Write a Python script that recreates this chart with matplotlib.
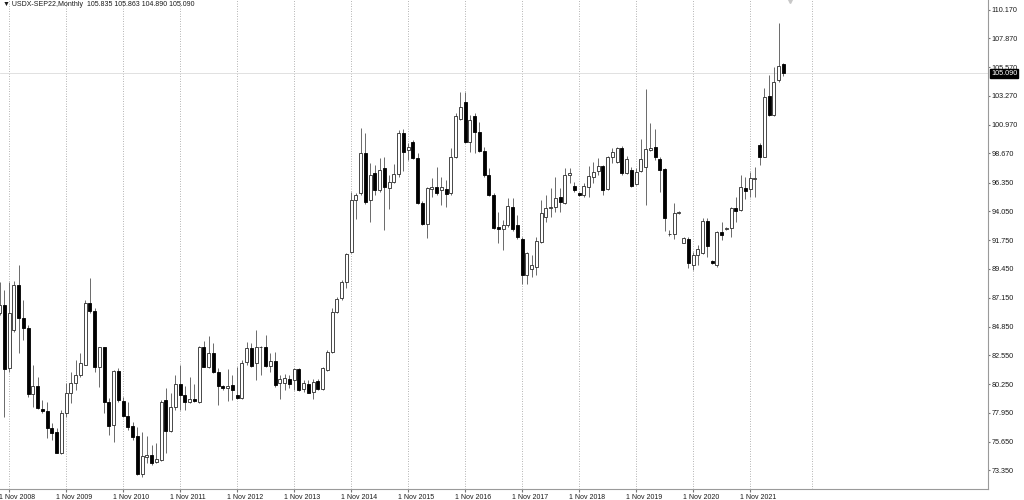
import numpy as np
import pandas as pd
import matplotlib
matplotlib.use('Agg')
import matplotlib.pyplot as plt
import matplotlib.transforms as mtransforms

plt.rcParams['font.family'] = ['Liberation Sans', 'DejaVu Sans']

# monthly bars, Sep 2008 .. Jun 2022
fechas = pd.date_range('2008-09-01', '2022-06-01', freq='MS')

opens = [
    85.90, 86.57, 81.51, 84.57,
    88.17, 85.50, 84.70, 79.46, 80.10, 78.24, 78.13, 76.72, 76.45, 74.72, 77.92, 79.51,
    80.31, 80.98, 81.78, 86.70, 86.12, 81.64, 83.19, 78.79, 76.98, 81.32, 78.90, 77.73,
    76.91, 76.11, 73.07, 74.46, 74.56, 74.06, 74.19, 78.98, 76.53, 78.40, 80.26, 79.38,
    78.85, 79.04, 78.85, 83.19, 81.64, 82.76, 81.24, 80.10, 79.91, 80.18, 79.38, 79.12,
    81.99, 83.11, 81.91, 83.22, 83.24, 81.73, 82.10, 80.32, 80.32, 80.66, 80.58, 81.43,
    79.84, 80.26, 79.65, 80.53, 79.84, 81.38, 82.84, 86.04, 87.10, 88.43, 90.83, 94.96,
    95.49, 98.74, 94.96, 97.09, 95.76, 97.49, 95.89, 96.42, 97.01, 100.33, 98.95, 99.62,
    98.28, 94.69, 93.04, 95.81, 95.97, 95.76, 95.81, 95.49, 98.36, 101.40, 102.81, 99.62,
    101.67, 100.41, 98.90, 96.95, 95.36, 92.83, 92.67, 92.96, 94.42, 92.96, 91.82, 88.97,
    89.42, 89.63, 91.63, 93.57, 94.29, 94.37, 95.17, 94.74, 96.95, 96.07, 95.49, 95.36,
    96.02, 96.82, 97.30, 97.67, 95.81, 98.42, 98.02, 99.08, 97.09, 97.35, 96.23, 97.30,
    97.57, 98.95, 99.16, 98.20, 97.41, 92.24, 92.24, 93.89, 91.55, 91.82, 89.77, 90.57,
    90.75, 93.31, 90.09, 89.77, 92.38, 92.64, 92.70, 94.35, 94.16, 95.94, 95.81, 96.63,
    99.35, 98.42, 103.29, 101.75, 104.54, 105.835,
]
highs = [
    88.43, 87.77, 88.43, 88.51,
    89.76, 86.97, 84.97, 81.78, 80.84, 78.98, 78.85, 77.12, 76.72, 78.18, 80.31, 81.24,
    82.18, 82.71, 86.97, 88.70, 86.30, 83.24, 83.24, 79.11, 81.38, 81.51, 79.25, 78.85,
    77.25, 76.85, 76.45, 76.11, 75.39, 75.52, 78.98, 79.91, 79.52, 80.98, 81.78, 80.10,
    80.84, 80.26, 83.30, 83.72, 84.09, 83.51, 81.51, 80.18, 81.43, 80.98, 81.64, 82.18,
    83.64, 83.51, 84.57, 83.30, 84.18, 82.71, 82.84, 80.98, 81.06, 80.98, 81.51, 81.51,
    80.58, 80.58, 80.63, 80.63, 81.65, 82.98, 86.30, 87.24, 88.57, 90.75, 95.62, 95.49,
    100.68, 100.28, 97.89, 97.75, 98.28, 98.42, 96.95, 97.83, 100.55, 100.60, 99.48, 99.75,
    98.68, 94.90, 96.02, 96.69, 97.62, 96.82, 96.55, 99.08, 101.88, 103.61, 103.61, 101.75,
    101.88, 101.21, 99.22, 97.49, 95.49, 94.03, 93.36, 95.09, 95.09, 93.76, 92.03, 90.83,
    90.57, 92.03, 94.96, 95.36, 95.89, 96.82, 95.89, 97.49, 97.49, 96.42, 95.62, 96.29,
    97.67, 98.02, 98.28, 97.75, 98.47, 99.08, 99.22, 99.27, 98.47, 97.57, 97.49, 99.80,
    103.79, 101.08, 100.60, 98.42, 97.49, 92.56, 94.74, 94.11, 91.97, 92.03, 90.83, 91.36,
    93.49, 93.49, 90.17, 92.51, 93.23, 92.83, 94.43, 95.22, 96.95, 96.82, 97.22, 97.62,
    99.48, 103.88, 104.94, 105.61, 109.12, 105.863,
]
lows = [
    85.77, 77.65, 81.24, 84.44,
    82.71, 83.77, 79.25, 78.45, 78.24, 77.92, 75.92, 75.79, 74.72, 74.67, 77.65, 78.71,
    79.78, 80.84, 81.78, 85.90, 81.24, 80.05, 77.92, 76.19, 75.65, 78.85, 77.65, 76.58,
    75.79, 72.99, 72.86, 73.92, 73.79, 73.98, 74.14, 74.72, 76.45, 78.18, 78.18, 78.18,
    78.77, 78.85, 78.72, 81.59, 81.51, 81.11, 78.58, 79.78, 78.93, 78.98, 79.04, 79.04,
    81.78, 81.65, 80.58, 80.98, 81.65, 81.25, 80.00, 79.04, 79.78, 79.92, 79.78, 79.73,
    79.65, 79.52, 79.04, 79.78, 79.78, 81.33, 82.71, 85.91, 86.97, 87.90, 90.70, 93.41,
    95.36, 94.64, 93.23, 95.36, 95.62, 92.56, 94.21, 96.29, 96.82, 97.30, 98.15, 98.20,
    94.64, 92.96, 91.90, 95.22, 95.36, 94.56, 94.42, 95.36, 98.28, 101.35, 99.54, 98.82,
    98.74, 98.82, 96.82, 95.28, 92.61, 91.55, 90.96, 92.83, 92.51, 91.82, 88.25, 88.25,
    88.83, 88.97, 91.50, 93.23, 93.63, 94.03, 94.03, 94.64, 96.29, 95.62, 95.28, 95.22,
    95.22, 96.29, 96.95, 95.36, 95.76, 97.94, 97.94, 96.95, 97.03, 96.02, 96.15, 97.22,
    94.56, 98.90, 98.15, 95.62, 92.51, 92.08, 91.82, 93.84, 91.50, 89.50, 89.37, 89.77,
    90.65, 90.43, 89.85, 89.63, 91.76, 92.56, 91.98, 93.23, 94.11, 95.01, 95.22, 95.22,
    97.75, 98.36, 101.67, 101.67, 104.41, 104.890,
]
closes = [
    86.57, 81.43, 85.96, 88.17,
    85.50, 84.70, 79.46, 80.10, 78.32, 78.13, 76.72, 76.37, 74.77, 77.92, 79.51, 80.31,
    80.98, 81.91, 86.70, 86.12, 81.64, 83.19, 78.79, 76.93, 81.32, 78.98, 77.73, 76.85,
    76.05, 73.07, 74.51, 74.56, 73.98, 74.25, 78.85, 76.53, 78.40, 80.26, 79.38, 78.85,
    79.04, 78.90, 83.19, 81.64, 82.76, 81.24, 80.10, 79.91, 80.10, 79.78, 79.12, 81.96,
    83.11, 81.73, 83.24, 83.24, 81.73, 82.10, 80.18, 80.66, 80.71, 80.26, 81.43, 79.78,
    80.32, 79.57, 80.45, 79.84, 81.51, 82.84, 86.04, 87.02, 88.43, 90.64, 94.96, 95.36,
    98.74, 94.82, 96.95, 95.76, 97.35, 96.02, 96.42, 97.01, 100.33, 98.82, 99.22, 98.28,
    94.69, 93.04, 95.89, 95.97, 95.54, 95.97, 95.44, 98.36, 101.67, 102.41, 99.62, 101.35,
    100.41, 98.90, 96.95, 95.36, 92.69, 92.61, 92.93, 94.48, 92.61, 91.97, 88.97, 90.70,
    89.77, 91.71, 93.95, 94.29, 94.42, 95.09, 94.82, 96.95, 97.14, 95.76, 95.36, 96.07,
    96.87, 97.22, 97.67, 95.76, 98.36, 98.82, 99.08, 97.14, 98.20, 96.07, 97.22, 98.20,
    99.00, 99.08, 98.36, 97.35, 93.49, 92.27, 93.89, 94.03, 91.90, 89.95, 90.57, 91.02,
    93.31, 91.28, 89.90, 92.38, 92.16, 92.70, 94.29, 94.11, 95.97, 95.68, 96.69, 96.69,
    98.42, 103.21, 101.75, 104.41, 105.66, 105.090,
]

precios_eje = [110.170, 107.870, 105.570, 103.270, 100.970, 98.670, 96.350, 94.050,
               91.750, 89.450, 87.150, 84.850, 82.550, 80.250, 77.950, 75.650, 73.350]
etiquetas_x = ['1 Nov 2008', '1 Nov 2009', '1 Nov 2010', '1 Nov 2011', '1 Nov 2012',
               '1 Nov 2013', '1 Nov 2014', '1 Nov 2015', '1 Nov 2016', '1 Nov 2017',
               '1 Nov 2018', '1 Nov 2019', '1 Nov 2020', '1 Nov 2021']

o = np.array(opens); h = np.array(highs); l = np.array(lows); c = np.array(closes)
# bar index, 0 = Nov 2008
x = np.arange(len(fechas)) - 2
pos_etiquetas = [list(fechas).index(pd.Timestamp('%d-11-01' % (2008 + k))) - 2 for k in range(len(etiquetas_x))]

fig = plt.figure(figsize=(10.24, 5.0), dpi=100)
ax = fig.add_axes([0, 11 / 500, 988 / 1024, 489 / 500])

ax.set_xlim(-1.9, 206.1)
ax.set_ylim(71.87, 110.93)

# grid vertical punteada
for p in pos_etiquetas + [169]:
    ax.axvline(p, color='#9a9a9a', lw=0.6, ls=(0, (1, 2)), zorder=0)

# linea del precio actual
ax.axhline(c[-1], color='#dcdcdc', lw=0.6, zorder=0)

# velas
sube = c >= o
ax.vlines(x, l, h, color='#6a6a6a', lw=0.7, zorder=1)
alto = np.maximum(np.abs(c - o), 0.03)
ax.bar(x[sube], alto[sube], bottom=np.minimum(o, c)[sube], width=0.64,
       color='white', edgecolor='#2a2a2a', linewidth=0.6, zorder=2)
ax.bar(x[~sube], alto[~sube], bottom=np.minimum(o, c)[~sube], width=0.64,
       color='black', edgecolor='black', linewidth=0.6, zorder=2)

# ejes
for s in ['left', 'top']:
    ax.spines[s].set_visible(False)
for s in ['right', 'bottom']:
    ax.spines[s].set_color('#9a9a9a')
    ax.spines[s].set_linewidth(0.8)

ax.yaxis.tick_right()
ax.set_yticks(precios_eje)
ax.set_yticklabels(['%.3f' % v for v in precios_eje])
ax.tick_params(axis='y', length=1.5, color='#777777', labelsize=5.2, pad=1.2, labelcolor='#1a1a1a')

ax.set_xticks(pos_etiquetas)
ax.set_xticklabels(etiquetas_x, ha='left')
ax.tick_params(axis='x', length=2, color='#777777', labelsize=5.0, pad=1.5, labelcolor='#1a1a1a')
offset = mtransforms.ScaledTranslation(-10 / 100, 0, fig.dpi_scale_trans)
for lbl in ax.get_xticklabels():
    lbl.set_transform(lbl.get_transform() + offset)

# etiqueta del precio
ax.text(1.003, c[-1], '%.3f' % c[-1], transform=ax.get_yaxis_transform(),
        ha='left', va='center', fontsize=5.2, color='white',
        bbox=dict(boxstyle='square,pad=0.15', fc='black', ec='black'))

# marcador de desplazamiento
ax.plot([x[-1] + 1.4], [110.93], marker='v', color='#c8c8c8', ms=4, clip_on=False, zorder=3)

fig.text(3 / 1024, 1 - 5 / 500, '\u25bc USDX-SEP22,Monthly  105.835 105.863 104.890 105.090',
         fontsize=5.0, color='#1a1a1a', va='center', ha='left')

fig.savefig('out.png', dpi=100)
